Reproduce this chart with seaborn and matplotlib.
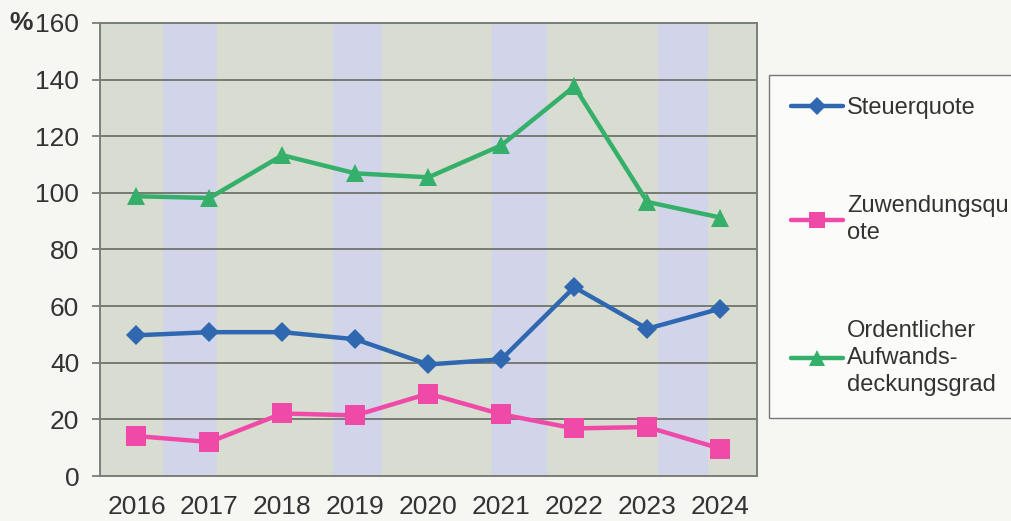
import numpy as np
import pandas as pd
import matplotlib
matplotlib.use("Agg")
import matplotlib.pyplot as plt
import seaborn as sns

# data
years = [2016, 2017, 2018, 2019, 2020, 2021, 2022, 2023, 2024]
steuerquote = [49.7, 50.8, 50.8, 48.3, 39.4, 41.2, 66.7, 52.0, 59.1]
zuwendungsquote = [14.1, 12.0, 22.1, 21.4, 29.1, 21.8, 16.8, 17.3, 9.7]
aufwandsdeckung = [98.8, 98.2, 113.3, 106.9, 105.5, 116.8, 137.6, 96.8, 91.3]

series_names = ["Steuerquote", "Zuwendungsquote", "Ordentlicher Aufwandsdeckungsgrad"]
legend_labels = ["Steuerquote", "Zuwendungsqu\note", "Ordentlicher\nAufwands-\ndeckungsgrad"]
y_ticks = [0, 20, 40, 60, 80, 100, 120, 140, 160]

df = pd.DataFrame({
    "Jahr": years * 3,
    "Wert": steuerquote + zuwendungsquote + aufwandsdeckung,
    "Reihe": np.repeat(series_names, len(years)),
})

colors = {"Steuerquote": "#2f68b0",
          "Zuwendungsquote": "#f04aa8",
          "Ordentlicher Aufwandsdeckungsgrad": "#35b06a"}
markers = {"Steuerquote": "D",
           "Zuwendungsquote": "s",
           "Ordentlicher Aufwandsdeckungsgrad": "^"}
marker_sizes = {"D": 10.5, "s": 14, "^": 13}

sns.set_theme(style="white")
plt.rcParams["font.family"] = ["Liberation Sans", "DejaVu Sans"]

fig = plt.figure(figsize=(10.11, 5.21), dpi=100, facecolor="#f6f6f3")
ax = fig.add_axes([100 / 1011, 1 - 476 / 521, 656.7 / 1011, 453 / 521])
ax.set_facecolor("#d9dcd0")

# scanned colour bands in the plot background
for x0, x1 in [(0.36, 1.10), (2.69, 3.36), (4.87, 5.62), (7.15, 7.83)]:
    ax.axvspan(2016 + x0, 2016 + x1, color="#d2d5ea", lw=0, zorder=0)

sns.lineplot(data=df, x="Jahr", y="Wert", hue="Reihe", style="Reihe",
             palette=colors, markers=markers, dashes=False,
             linewidth=3.2, markersize=13, markeredgewidth=0, ax=ax, zorder=3)
for line in ax.get_lines():
    if line.get_marker() in marker_sizes:
        line.set_markersize(marker_sizes[line.get_marker()])

ax.set_xlim(2015.5, 2024.5)
ax.set_ylim(0, 160)
ax.set_yticks(y_ticks)
ax.set_xticks(years)
ax.set_xticks(np.arange(2015.5, 2025, 1.0), minor=True)
ax.grid(axis="y", color="#6f746c", linewidth=1.3)
ax.set_axisbelow(True)
ax.set_xlabel("")
ax.set_ylabel("")

ax.tick_params(axis="x", which="major", length=0, pad=14, labelsize=19, labelcolor="#333333")
ax.tick_params(axis="x", which="minor", length=6, width=1.2, color="#6f746c", direction="out")
ax.tick_params(axis="y", length=6, width=1.2, color="#6f746c", pad=9, labelsize=19,
               labelcolor="#333333", left=True)

for side in ["left", "bottom", "top", "right"]:
    ax.spines[side].set_color("#7a7f78")
    ax.spines[side].set_linewidth(1.4)

fig.text(9 / 1011, 1 - 23 / 521, "%", fontsize=19, fontweight="bold",
         color="#333333", va="center", ha="left")

handles, labels = ax.get_legend_handles_labels()
ax.get_legend().remove()
leg = fig.legend(handles, legend_labels, loc="upper left",
                 bbox_to_anchor=(769 / 1011, 1 - 75 / 521, 0.3, 0.0), mode="expand",
                 fontsize=17, handlelength=2.2, handletextpad=0.15,
                 labelspacing=3.2, borderpad=0.95, borderaxespad=0,
                 frameon=True, fancybox=False, edgecolor="#777777",
                 facecolor="#fbfbfa", framealpha=1)
leg.get_frame().set_linewidth(1.0)
for t in leg.get_texts():
    t.set_color("#333333")
    t.set_linespacing(1.3)
for h in leg.legend_handles:
    if h.get_marker() in marker_sizes:
        h.set_markersize(marker_sizes[h.get_marker()] * 0.85)

fig.savefig("out.png", dpi=100, facecolor=fig.get_facecolor())
